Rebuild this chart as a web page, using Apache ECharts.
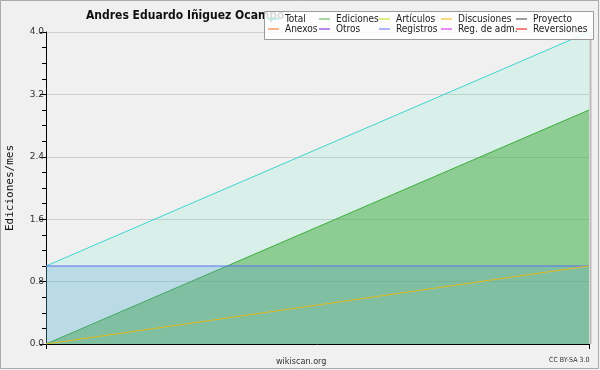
<!DOCTYPE html>
<html><head><meta charset="utf-8">
<script src="https://cdn.jsdelivr.net/npm/echarts@6/dist/echarts.min.js"></script>
<style>html,body{margin:0;padding:0;background:#f0f0f0}#c{width:600px;height:370px}</style>
</head><body><div id="c"></div>
<script>
var categories = ['2020-01', '2020-02'];
var totalValues = [1, 4];
var edicionesValues = [0, 3];
var registrosValues = [1, 1];
var discusionesValues = [0, 1];
var yTicks = [0, 0.8, 1.6, 2.4, 3.2, 4.0];
var legendCols = [['Total', 'Anexos'], ['Ediciones', 'Otros'], ['Artículos', 'Registros'], ['Discusiones', 'Reg. de adm.'], ['Proyecto', 'Reversiones']];
var legendColors = {
  'Total': '#9ee6e2', 'Anexos': '#f08040', 'Ediciones': '#6cc06c', 'Otros': '#8a3ee0',
  'Artículos': '#c6e83a', 'Registros': '#7a86ff', 'Discusiones': '#f4c430',
  'Reg. de adm.': '#e040f0', 'Proyecto': '#606060', 'Reversiones': '#f03030'
};
var colLeft = [268, 319, 379, 441, 516];

var chart = echarts.init(document.getElementById('c'));
var font = '"DejaVu Sans Condensed", "Liberation Sans Narrow", sans-serif';

var series = [
  {name: 'Total', type: 'line', data: totalValues, symbol: 'none', z: 2,
   lineStyle: {color: '#3fd4cc', width: 1}, itemStyle: {color: legendColors['Total']},
   areaStyle: {color: 'rgba(70,240,194,0.14)', opacity: 1}},
  {name: 'Ediciones', type: 'line', data: edicionesValues, symbol: 'none', z: 3,
   lineStyle: {color: '#3cae3c', width: 1}, itemStyle: {color: legendColors['Ediciones']},
   areaStyle: {color: 'rgba(66,168,60,0.5)', opacity: 1}},
  {name: 'Registros', type: 'line', data: registrosValues, symbol: 'none', z: 4,
   lineStyle: {color: '#5a6ef2', width: 1}, itemStyle: {color: legendColors['Registros']},
   areaStyle: {color: 'rgba(87,153,216,0.23)', opacity: 1}},
  {name: 'Discusiones', type: 'line', data: discusionesValues, symbol: 'none', z: 5,
   lineStyle: {color: '#e0ba20', width: 1}, itemStyle: {color: legendColors['Discusiones']}}
];
var used = ['Total', 'Ediciones', 'Registros', 'Discusiones'];
Object.keys(legendColors).forEach(function (n) {
  if (used.indexOf(n) < 0) {
    series.push({name: n, type: 'line', data: [], symbol: 'none', itemStyle: {color: legendColors[n]}, lineStyle: {color: legendColors[n]}});
  }
});

var legends = legendCols.map(function (col, i) {
  return {
    data: col, orient: 'vertical', left: colLeft[i], top: 14, z: 10, padding: 0,
    icon: 'rect', itemWidth: 11, itemHeight: 1.2, itemGap: 0,
    selectedMode: false,
    textStyle: {fontFamily: font, fontSize: 10, color: '#222', lineHeight: 10, padding: [0, 0, 0, 1]}
  };
});

chart.setOption({
  animation: false,
  backgroundColor: '#f0f0f0',
  title: {text: 'Andres Eduardo Iñiguez Ocampo', left: 81, top: 5, z: 0,
    textStyle: {fontFamily: font, fontSize: 12, fontWeight: 'bold', color: '#111'}},
  graphic: [
    {type: 'rect', z: 5, shape: {x: 264.5, y: 11.5, width: 329, height: 28},
     style: {fill: 'rgba(255,255,255,0.85)', stroke: '#999', lineWidth: 1}},
    {type: 'rect', z: 1, shape: {x: 0.5, y: 0.5, width: 598, height: 368},
     style: {fill: 'none', stroke: '#aaa', lineWidth: 1}},
    {type: 'line', z: 1, shape: {x1: 590.5, y1: 32, x2: 590.5, y2: 344},
     style: {stroke: '#bbb', lineWidth: 2}},
    {type: 'text', left: 276, top: 357, style: {text: 'wikiscan.org', font: '9px ' + font, fill: '#333'}},
    {type: 'text', left: 549, top: 357, style: {text: 'CC BY-SA 3.0', font: '7px ' + font, fill: '#333'}}
  ],
  legend: legends,
  grid: {left: 46, right: 11, top: 32, bottom: 26, show: false, containLabel: false, outerBoundsMode: 'none'},
  xAxis: {
    type: 'category', data: categories, boundaryGap: false,
    axisLine: {lineStyle: {color: '#000', width: 1}},
    axisTick: {show: true, length: 5, lineStyle: {color: '#000'}},
    axisLabel: {show: false}, splitLine: {show: false}
  },
  yAxis: {
    type: 'value', min: yTicks[0], max: yTicks[yTicks.length - 1], interval: 0.8,
    name: 'Ediciones/mes', nameLocation: 'middle', nameGap: 30, nameRotate: 90,
    nameTextStyle: {fontFamily: 'DejaVu Sans Mono, monospace', fontSize: 11, color: '#111'},
    axisLine: {show: true, lineStyle: {color: '#000', width: 1}},
    axisTick: {show: true, length: 6, lineStyle: {color: '#000'}},
    minorTick: {show: true, splitNumber: 4, length: 4, lineStyle: {color: '#000'}},
    axisLabel: {fontFamily: 'DejaVu Sans, sans-serif', fontSize: 9, color: '#333', margin: 2,
      formatter: function (v) { return v.toFixed(1); }},
    splitLine: {show: true, lineStyle: {color: '#cfcfcf', width: 1}}
  },
  series: series
});
</script></body></html>
